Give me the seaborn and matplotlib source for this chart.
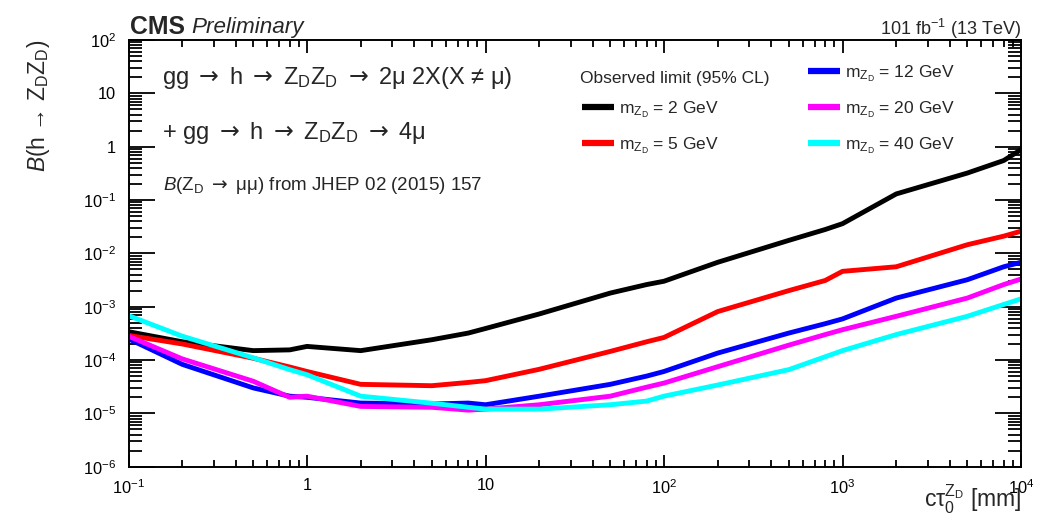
import numpy as np
import pandas as pd
import matplotlib
matplotlib.use("Agg")
import matplotlib.pyplot as plt
from matplotlib.lines import Line2D
from matplotlib.ticker import LogLocator, FuncFormatter, NullFormatter
import seaborn as sns

# lifetime scan points (mm)
ctau = [0.1, 0.2, 0.5, 0.8, 1, 2, 5, 8, 10, 20, 50, 80, 100, 200, 500,
        800, 1000, 2000, 5000, 8000, 10000]

# observed 95% CL limits on B(h -> ZD ZD) for each dark photon mass
limit_m2 = [3.4e-4, 2.2e-4, 1.5e-4, 1.55e-4, 1.8e-4, 1.5e-4, 2.4e-4, 3.2e-4,
            3.9e-4, 7.3e-4, 1.8e-3, 2.6e-3, 3.0e-3, 6.8e-3, 1.75e-2, 2.8e-2,
            3.6e-2, 0.13, 0.32, 0.55, 0.88]
limit_m5 = [2.9e-4, 2.0e-4, 1.08e-4, 7.4e-5, 6.1e-5, 3.5e-5, 3.3e-5, 3.8e-5,
            4.1e-5, 6.7e-5, 1.45e-4, 2.2e-4, 2.65e-4, 8.1e-4, 2.0e-3, 3.1e-3,
            4.6e-3, 5.6e-3, 1.45e-2, 2.1e-2, 2.6e-2]
limit_m12 = [2.5e-4, 8.3e-5, 3.0e-5, 2.1e-5, 2.0e-5, 1.56e-5, 1.5e-5, 1.56e-5,
             1.45e-5, 2.1e-5, 3.5e-5, 5.0e-5, 6.1e-5, 1.35e-4, 3.2e-4, 4.8e-4,
             5.9e-4, 1.45e-3, 3.2e-3, 5.6e-3, 6.8e-3]
limit_m20 = [2.8e-4, 1.05e-4, 4.0e-5, 2.0e-5, 2.1e-5, 1.35e-5, 1.3e-5, 1.15e-5,
             1.2e-5, 1.45e-5, 2.1e-5, 3.1e-5, 3.7e-5, 7.5e-5, 1.9e-4, 3.0e-4,
             3.7e-4, 6.6e-4, 1.45e-3, 2.6e-3, 3.3e-3]
limit_m40 = [6.8e-4, 2.8e-4, 1.1e-4, 6.6e-5, 5.3e-5, 2.1e-5, 1.55e-5, 1.3e-5,
             1.2e-5, 1.2e-5, 1.45e-5, 1.7e-5, 2.1e-5, 3.4e-5, 6.6e-5, 1.15e-4,
             1.5e-4, 3.0e-4, 6.6e-4, 1.1e-3, 1.4e-3]

masses = [2, 5, 12, 20, 40]
series = [limit_m2, limit_m5, limit_m12, limit_m20, limit_m40]
colors = ["#000000", "#ff0000", "#0000ff", "#ff00ff", "#00ffff"]

df = pd.concat(
    [pd.DataFrame({"ctau": ctau, "limit": vals, "mass": m})
     for m, vals in zip(masses, series)],
    ignore_index=True,
)

sns.set_style("ticks")
plt.rcParams["font.family"] = ["Liberation Sans", "DejaVu Sans"]
plt.rcParams["mathtext.fontset"] = "custom"
plt.rcParams["mathtext.rm"] = "Liberation Sans"
plt.rcParams["mathtext.it"] = "Liberation Sans:italic"
plt.rcParams["mathtext.bf"] = "Liberation Sans:bold"
plt.rcParams["mathtext.sf"] = "DejaVu Sans"
plt.rcParams["axes.linewidth"] = 1.4

W, H = 1058, 513
fig = plt.figure(figsize=(W / 100, H / 100), dpi=100)
ax = fig.add_axes([128.5 / W, 1 - 466.7 / H, (1021 - 128.5) / W, (466.7 - 40) / H])

palette = dict(zip(masses, colors))
sns.lineplot(data=df, x="ctau", y="limit", hue="mass", palette=palette,
             linewidth=3.5, legend=False, ax=ax, sort=False, estimator=None)

ax.set_xscale("log")
ax.set_yscale("log")
ax.set_xlim(0.1, 1e4)
ax.set_ylim(1e-6, 1e2)


def decade_label(v, pos):
    e = int(round(np.log10(v)))
    if e == 0:
        return "1"
    if e == 1:
        return "10"
    return r"$10^{%d}$" % e


ax.xaxis.set_major_locator(LogLocator(base=10, numticks=20))
ax.yaxis.set_major_locator(LogLocator(base=10, numticks=20))
ax.xaxis.set_minor_locator(LogLocator(base=10, subs=np.arange(2, 10), numticks=50))
ax.yaxis.set_minor_locator(LogLocator(base=10, subs=np.arange(2, 10), numticks=50))
ax.xaxis.set_major_formatter(FuncFormatter(decade_label))
ax.yaxis.set_major_formatter(FuncFormatter(decade_label))
ax.xaxis.set_minor_formatter(NullFormatter())
ax.yaxis.set_minor_formatter(NullFormatter())

ax.tick_params(axis="both", which="both", direction="in", top=True, right=True,
               width=1.3, colors="black", labelsize=11.8)
ax.tick_params(axis="y", which="major", length=19, pad=9)
ax.tick_params(axis="y", which="minor", length=9.5)
ax.tick_params(axis="x", which="major", length=9, pad=8)
ax.tick_params(axis="x", which="minor", length=4.8)
for s in ax.spines.values():
    s.set_color("black")

ax.set_xlabel(r"cτ$_{0}^{\mathrm{Z}_{\mathrm{D}}}$ [mm]", fontsize=16.5,
              ha="right", va="baseline")
ax.xaxis.set_label_coords(1.0, -(507.5 - 466.7) / 426.7)
ax.set_ylabel(r"$\mathit{B}$(h → Z$_{\mathrm{D}}$Z$_{\mathrm{D}}$)", fontsize=16.5,
              ha="right", va="center")
ax.yaxis.set_label_coords(-(128.5 - 39) / 892.5, 1.0)


def fx(px):
    return px / W


def fy(py):
    return 1 - py / H


ARROW = r"$\mathsf{\rightarrow}$"

fig.text(fx(130), fy(33.5), "CMS", fontsize=17.8, fontweight="bold", va="baseline")
fig.text(fx(191), fy(33.5), "Preliminary", fontsize=16.2, fontstyle="italic",
         va="baseline")
fig.text(fx(1021), fy(35), "101 fb$^{-1}$ (13 TeV)", fontsize=13, ha="right",
         va="baseline")

fig.text(fx(162), fy(84),
         f"gg {ARROW} h {ARROW} Z$_{{\\mathrm{{D}}}}$Z$_{{\\mathrm{{D}}}}$ {ARROW} 2μ 2X(X ≠ μ)",
         fontsize=17, va="baseline")
fig.text(fx(162), fy(139),
         f"+ gg {ARROW} h {ARROW} Z$_{{\\mathrm{{D}}}}$Z$_{{\\mathrm{{D}}}}$ {ARROW} 4μ",
         fontsize=17, va="baseline")
fig.text(fx(163), fy(190.5),
         f"$\\mathit{{B}}$(Z$_{{\\mathrm{{D}}}}$ {ARROW} μμ) from JHEP 02 (2015) 157",
         fontsize=13.5, va="baseline")

# legend: first slot of the left column holds the header text
label_fmt = r"m$_{\mathrm{Z}_{\mathrm{D}}}$ = %d GeV"
handles = [Line2D([], [], color="none", lw=4.5)]
labels = [label_fmt % 2]
for m, c in zip(masses, colors):
    handles.append(Line2D([], [], color=c, lw=4.5, solid_capstyle="butt"))
    labels.append(label_fmt % m)
leg = fig.legend(handles, labels, ncol=2, frameon=False, fontsize=12.5,
                 loc="upper left", bbox_to_anchor=(fx(582), fy(63)),
                 borderpad=0, borderaxespad=0, handlelength=1.85,
                 handletextpad=0.3, columnspacing=5.1, labelspacing=0.9)
leg.get_texts()[0].set_alpha(0)
fig.text(fx(580), fy(82.5), "Observed limit (95% CL)", fontsize=12.5,
         va="baseline")

fig.savefig("out.png", dpi=100)
